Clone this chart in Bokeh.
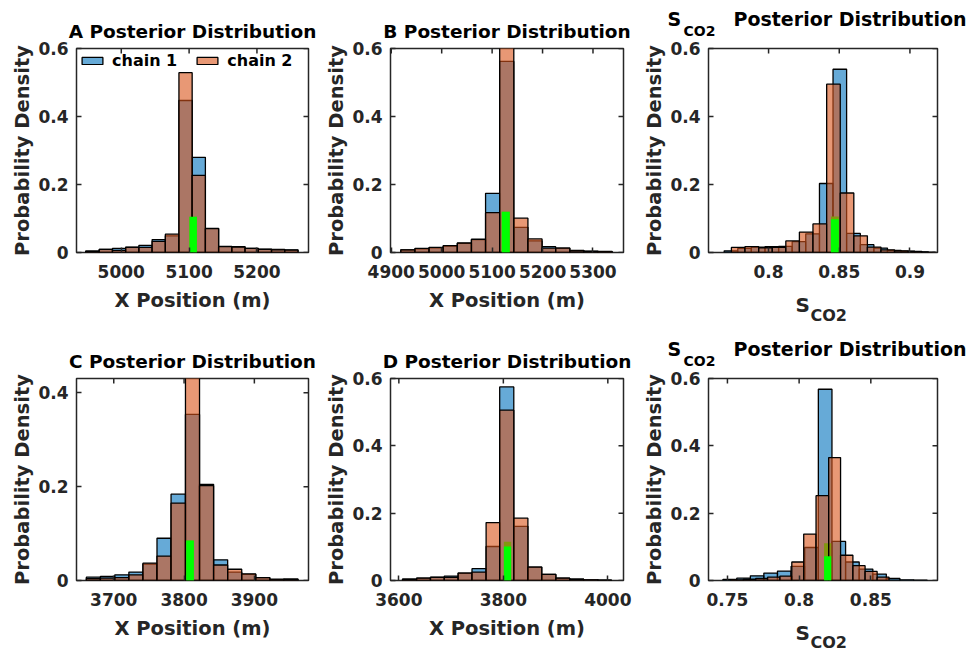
from bokeh.plotting import figure
from bokeh.models import Range1d, FixedTicker, Label, Legend, LegendItem
from bokeh.layouts import row, column
from bokeh.embed import file_html
from bokeh.resources import INLINE

FONT = "DejaVu Sans"
INK = "#262626"
BLUE = "#0072BD"
ORANGE = "#D95319"
GREEN = "#00FF00"

# ---------------- data ----------------
# Panel A  (X position, shared bin edges for both chains)
A_edges = [4947.5, 4967.5, 4987.0, 5006.5, 5026.0, 5045.5, 5065.0, 5085.0, 5104.5,
           5124.0, 5143.5, 5163.0, 5182.5, 5202.0, 5221.5, 5241.0, 5260.5]
A_chain1 = [0.004, 0.009, 0.012, 0.016, 0.021, 0.038, 0.049, 0.447, 0.280,
            0.071, 0.018, 0.017, 0.012, 0.010, 0.009, 0.008]
A_chain2 = [0.004, 0.009, 0.006, 0.015, 0.015, 0.033, 0.054, 0.529, 0.227,
            0.070, 0.017, 0.016, 0.012, 0.009, 0.008, 0.007]
A_true = [5100.5, 5111.5]
A_true_heights = [0.105, 0.105]          # [under, bright]
A_xlim = [4934, 5276]
A_ylim = [0, 0.6]
A_xticks = [5000, 5100, 5200]
A_xtick_labels = ["5000", "5100", "5200"]

# Panel B
B_edges = [4919, 4947, 4975, 5003, 5031, 5059, 5087, 5115, 5143, 5171, 5199,
           5226, 5254, 5282, 5310, 5338]
B_chain1 = [0.008, 0.011, 0.014, 0.019, 0.027, 0.038, 0.174, 0.562, 0.074,
            0.034, 0.017, 0.013, 0.006, 0.004, 0.003]
B_chain2 = [0.008, 0.012, 0.015, 0.020, 0.028, 0.039, 0.117, 0.640, 0.101,
            0.040, 0.013, 0.013, 0.005, 0.003, 0.002]
B_true = [5119, 5135]
B_true_heights = [0.12, 0.12]
B_xlim = [4898.5, 5360.5]
B_ylim = [0, 0.6]
B_xticks = [4900, 5000, 5100, 5200, 5300]
B_xtick_labels = ["4900", "5000", "5100", "5200", "5300"]

# Panel S_CO2 (top row) - each chain has its own bins
S1_edges1 = [0.7686, 0.7782, 0.7878, 0.7975, 0.8071, 0.8167, 0.8263, 0.8360,
             0.8456, 0.8552, 0.8649, 0.8745, 0.8841, 0.8938, 0.9034, 0.9130]
S1_chain1 = [0.005, 0.012, 0.016, 0.017, 0.018, 0.032, 0.055, 0.203, 0.539,
             0.056, 0.023, 0.013, 0.006, 0.004, 0.002]
S1_edges2 = [0.7737, 0.7833, 0.7930, 0.8026, 0.8122, 0.8218, 0.8314, 0.8411,
             0.8507, 0.8603, 0.8699, 0.8795, 0.8891, 0.8988, 0.9084, 0.9180]
S1_chain2 = [0.015, 0.017, 0.014, 0.015, 0.034, 0.060, 0.084, 0.495, 0.175,
             0.049, 0.016, 0.008, 0.005, 0.003, 0.001]
S1_true = [0.8441, 0.8497]
S1_true_heights = [0.106, 0.098]
S1_xlim = [0.7575, 0.9195]
S1_ylim = [0, 0.6]
S1_xticks = [0.8, 0.85, 0.9]
S1_xtick_labels = ["0.8", "0.85", "0.9"]

# Panel C
C_edges = [3661, 3681, 3701.5, 3721.5, 3741.5, 3761.5, 3781.5, 3802, 3822, 3842,
           3862, 3882, 3902, 3922, 3942, 3962]
C_chain1 = [0.007, 0.0085, 0.012, 0.018, 0.035, 0.090, 0.184, 0.354, 0.205,
            0.044, 0.018, 0.013, 0.006, 0.003, 0.003]
C_chain2 = [0.004, 0.005, 0.006, 0.012, 0.037, 0.052, 0.165, 0.470, 0.202,
            0.033, 0.024, 0.014, 0.006, 0.0015, 0.003]
C_true = [3803, 3814]
C_true_heights = [0.085, 0.085]
C_xlim = [3647, 3977]
C_ylim = [0, 0.4305]
C_xticks = [3700, 3800, 3900]
C_xtick_labels = ["3700", "3800", "3900"]

# Panel D
D_edges = [3607, 3634, 3660.5, 3687, 3713.5, 3740, 3767, 3793, 3820, 3847,
           3873.5, 3900.5, 3927, 3954, 3981, 4007]
D_chain1 = [0.004, 0.007, 0.010, 0.013, 0.022, 0.035, 0.101, 0.575, 0.161,
            0.040, 0.018, 0.007, 0.004, 0.002, 0.001]
D_chain2 = [0.004, 0.007, 0.009, 0.009, 0.022, 0.025, 0.172, 0.506, 0.185,
            0.040, 0.018, 0.007, 0.004, 0.002, 0.001]
D_true = [3801, 3815]
D_true_heights = [0.115, 0.101]
D_xlim = [3584, 4030]
D_ylim = [0, 0.6]
D_xticks = [3600, 3800, 4000]
D_xtick_labels = ["3600", "3800", "4000"]

# Panel S_CO2 (bottom row)
S2_edges1 = [0.7469, 0.7565, 0.7660, 0.7754, 0.7849, 0.7944, 0.8039, 0.8134,
             0.8229, 0.8324, 0.8419, 0.8514, 0.8608, 0.8703, 0.8799, 0.8893]
S2_chain1 = [0.003, 0.007, 0.014, 0.022, 0.028, 0.042, 0.098, 0.568, 0.116,
             0.055, 0.034, 0.019, 0.006, 0.002, 0.001]
S2_edges2 = [0.7525, 0.7611, 0.7697, 0.7780, 0.7866, 0.7949, 0.8032, 0.8118,
             0.8206, 0.8289, 0.8375, 0.8460, 0.8544, 0.8627]
S2_chain2 = [0.002, 0.004, 0.006, 0.010, 0.013, 0.055, 0.138, 0.252, 0.365,
             0.075, 0.044, 0.027, 0.010]
S2_true = [0.8174, 0.8224]
S2_true_heights = [0.111, 0.072]
S2_xlim = [0.7368, 0.8965]
S2_ylim = [0, 0.6]
S2_xticks = [0.75, 0.8, 0.85]
S2_xtick_labels = ["0.75", "0.8", "0.85"]

Y6_ticks = [0, 0.2, 0.4, 0.6]
Y6_labels = ["0", "0.2", "0.4", "0.6"]
Y4_ticks = [0, 0.2, 0.4]
Y4_labels = ["0", "0.2", "0.4"]

SERIES_NAMES = ["chain 1", "chain 2"]
TITLE_TEXT = "Posterior Distribution"
XLABEL_POS = "X Position (m)"
YLABEL = "Probability Density"
S_MAIN = "S"
S_SUB = "CO2"

# ---------------- layout geometry (pixels) ----------------
COLS = [(320, 76, 12), (320, 70, 17), (339, 67, 42)]   # width, left, right
ROWS = [(330, 48, 204, 78), (322, 48, 202, 72)]        # height, top border, frame, bottom
S_TOP = 10          # S panels: border kept above the frame (rest is a text strip)
S_BOTTOM = 40       # S panels: border kept below the frame (rest is a text strip)


def style_axis(ax, ticks, labels, standoff):
    ax.ticker = FixedTicker(ticks=ticks)
    ax.major_label_overrides = {t: l for t, l in zip(ticks, labels)}
    ax.axis_line_color = None
    ax.major_tick_in = 5
    ax.major_tick_out = 0
    ax.major_tick_line_color = INK
    ax.major_tick_line_width = 1.5
    ax.minor_tick_line_color = None
    ax.major_label_text_font = FONT
    ax.major_label_text_font_style = "bold"
    ax.major_label_text_color = INK
    ax.major_label_standoff = standoff
    ax.major_label_text_font_size = "17px"
    ax.axis_label_text_font = FONT
    ax.axis_label_text_font_style = "bold"
    ax.axis_label_text_font_size = "19.5px"
    ax.axis_label_text_color = INK


def strip(w, h):
    s = figure(width=w, height=h, output_backend="svg", toolbar_location=None,
               x_range=Range1d(0, w), y_range=Range1d(0, h),
               x_axis_location=None, y_axis_location=None, min_border=0,
               frame_align=False)
    s.grid.visible = False
    s.outline_line_color = None
    s.background_fill_color = "white"
    s.border_fill_color = "white"
    return s


def text(p, x, y, s, size, align="left", color="#000000"):
    p.add_layout(Label(x=x, y=y, text=s, text_font=FONT, text_font_style="bold",
                       text_font_size=size, text_color=color,
                       text_align=align, text_baseline="middle"))


def panel(col, rw, xlim, ylim, xticks, xlabels, yticks, ylabels,
          e1, h1, e2, h2, true_lr, true_h, title_letter, is_s, legend=False):
    w, l, r = COLS[col]
    H, t, fh, b = ROWS[rw]
    fw = w - l - r
    top = S_TOP if is_s else t
    bottom = S_BOTTOM if is_s else b
    p = figure(width=w, height=fh + top + bottom, output_backend="svg",
               toolbar_location=None,
               x_range=Range1d(*xlim), y_range=Range1d(*ylim),
               min_border_left=l, min_border_right=r,
               min_border_top=top, min_border_bottom=bottom, frame_align=False)
    p.grid.visible = False
    p.background_fill_color = "white"
    p.border_fill_color = "white"
    p.outline_line_color = INK
    p.outline_line_width = 1.5
    p.outline_line_alpha = 1.0

    q1 = p.quad(left=e1[:-1], right=e1[1:], bottom=0, top=h1,
                fill_color=BLUE, fill_alpha=0.6, line_color="black", line_width=1.3)
    p.quad(left=[true_lr[0]], right=[true_lr[1]], bottom=0, top=[true_h[0]],
           fill_color=GREEN, line_color=None)
    q2 = p.quad(left=e2[:-1], right=e2[1:], bottom=0, top=h2,
                fill_color=ORANGE, fill_alpha=0.6, line_color="black", line_width=1.3)
    p.quad(left=[true_lr[0]], right=[true_lr[1]], bottom=0, top=[true_h[1]],
           fill_color=GREEN, line_color=None)

    # inward ticks mirrored on the top and right edges of the box
    dy = 5 * (ylim[1] - ylim[0]) / fh
    dx = 5 * (xlim[1] - xlim[0]) / fw
    p.segment(x0=xticks, y0=[ylim[1]] * len(xticks), x1=xticks,
              y1=[ylim[1] - dy] * len(xticks), line_color=INK, line_width=1.5)
    p.segment(x0=[xlim[1]] * len(yticks), y0=yticks, x1=[xlim[1] - dx] * len(yticks),
              y1=yticks, line_color=INK, line_width=1.5)

    style_axis(p.xaxis[0], xticks, xlabels, 12)
    style_axis(p.yaxis[0], yticks, ylabels, 8)
    p.xaxis[0].axis_label_standoff = 8
    p.yaxis[0].axis_label_standoff = 1
    p.yaxis[0].axis_label = YLABEL

    if legend:
        lg = Legend(items=[LegendItem(label=SERIES_NAMES[0], renderers=[q1]),
                           LegendItem(label=SERIES_NAMES[1], renderers=[q2])],
                    location="top_left", orientation="horizontal")
        lg.label_text_font = FONT
        lg.label_text_font_style = "bold"
        lg.label_text_font_size = "16px"
        lg.label_text_color = "#000000"
        lg.glyph_width = 26
        lg.glyph_height = 9
        lg.label_standoff = 7
        lg.spacing = 17
        lg.padding = 3
        lg.margin = 0
        lg.border_line_alpha = 0
        lg.background_fill_alpha = 0
        p.add_layout(lg, "center")

    if not is_s:
        p.xaxis[0].axis_label = XLABEL_POS
        p.title.text = title_letter + " " + TITLE_TEXT
        p.title.align = "center"
        p.title.text_font = FONT
        p.title.text_font_style = "bold"
        p.title.text_font_size = "18.5px"
        p.title.text_color = "#000000"
        p.title.standoff = 13
        return p

    # S_CO2 panels: title and x label with a lowered "CO2" drawn in text strips
    head_h = t - S_TOP
    head = strip(w, head_h)
    text(head, 27, head_h - 18.3, S_MAIN, "19px")
    text(head, 43, head_h - 30, S_SUB, "14px")
    text(head, 93, head_h - 18.3, TITLE_TEXT, "19px")
    foot_h = b - S_BOTTOM
    foot = strip(w, foot_h)
    text(foot, 155, foot_h - 12.5, S_MAIN, "20px", color=INK)
    text(foot, 170, max(foot_h - 23, 10), S_SUB, "16px", color=INK)
    return column(head, p, foot, spacing=0)


pA = panel(0, 0, A_xlim, A_ylim, A_xticks, A_xtick_labels, Y6_ticks, Y6_labels,
           A_edges, A_chain1, A_edges, A_chain2, A_true, A_true_heights, "A", False, legend=True)
pB = panel(1, 0, B_xlim, B_ylim, B_xticks, B_xtick_labels, Y6_ticks, Y6_labels,
           B_edges, B_chain1, B_edges, B_chain2, B_true, B_true_heights, "B", False)
pS1 = panel(2, 0, S1_xlim, S1_ylim, S1_xticks, S1_xtick_labels, Y6_ticks, Y6_labels,
            S1_edges1, S1_chain1, S1_edges2, S1_chain2, S1_true, S1_true_heights, "", True)
pC = panel(0, 1, C_xlim, C_ylim, C_xticks, C_xtick_labels, Y4_ticks, Y4_labels,
           C_edges, C_chain1, C_edges, C_chain2, C_true, C_true_heights, "C", False)
pD = panel(1, 1, D_xlim, D_ylim, D_xticks, D_xtick_labels, Y6_ticks, Y6_labels,
           D_edges, D_chain1, D_edges, D_chain2, D_true, D_true_heights, "D", False)
pS2 = panel(2, 1, S2_xlim, S2_ylim, S2_xticks, S2_xtick_labels, Y6_ticks, Y6_labels,
            S2_edges1, S2_chain1, S2_edges2, S2_chain2, S2_true, S2_true_heights, "", True)

layout = column(row(pA, pB, pS1, spacing=0), row(pC, pD, pS2, spacing=0), spacing=0)
open("out.html", "w").write(file_html(layout, INLINE))
